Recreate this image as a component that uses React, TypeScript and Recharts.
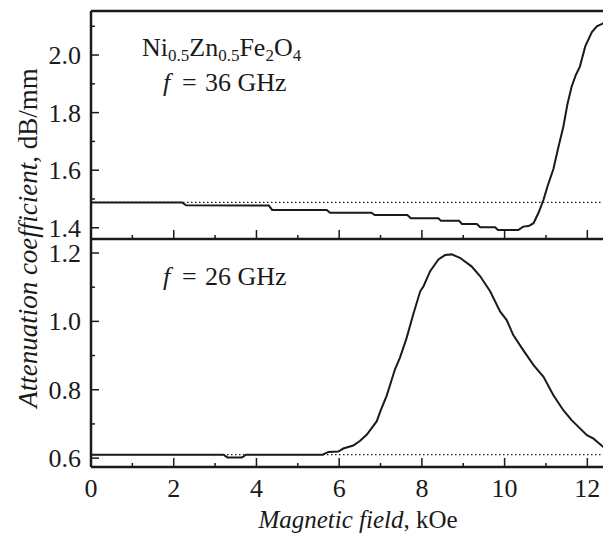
import React from "react";
import { LineChart, Line, XAxis, YAxis, ReferenceLine } from "recharts";

// top panel: f = 36 GHz
const field36 = [0, 1, 2.2, 2.3, 4.3, 4.38, 5.7, 5.78, 6.78, 6.86, 7.65, 7.73, 8.4, 8.46, 8.9, 8.97, 9.33, 9.41, 9.77, 9.84, 10.33, 10.45, 10.58, 10.7, 10.82, 10.94, 11.04, 11.18, 11.3, 11.42, 11.52, 11.62, 11.72, 11.82, 11.95, 12.11, 12.23, 12.38, 12.5];
const atten36 = [1.488, 1.488, 1.488, 1.478, 1.477, 1.462, 1.462, 1.452, 1.452, 1.444, 1.444, 1.433, 1.433, 1.424, 1.424, 1.413, 1.413, 1.402, 1.402, 1.392, 1.392, 1.404, 1.406, 1.416, 1.452, 1.497, 1.545, 1.604, 1.68, 1.751, 1.83, 1.89, 1.93, 1.96, 2.03, 2.08, 2.1, 2.11, 2.115];
const base36 = 1.488;

// bottom panel: f = 26 GHz
const field26 = [0, 3.2, 3.3, 3.65, 3.75, 5.6, 5.74, 5.98, 6.1, 6.34, 6.5, 6.67, 6.91, 7.0, 7.15, 7.35, 7.47, 7.63, 7.79, 7.96, 8.04, 8.2, 8.4, 8.56, 8.72, 8.92, 9.2, 9.41, 9.65, 9.89, 10.05, 10.21, 10.45, 10.7, 10.94, 11.18, 11.42, 11.62, 11.99, 12.15, 12.38, 12.5];
const atten26 = [0.61, 0.61, 0.602, 0.602, 0.61, 0.61, 0.618, 0.619, 0.628, 0.637, 0.65, 0.669, 0.708, 0.738, 0.783, 0.86, 0.894, 0.951, 1.02, 1.088, 1.103, 1.147, 1.181, 1.194, 1.196, 1.186, 1.161, 1.132, 1.088, 1.029, 1.004, 0.96, 0.916, 0.872, 0.838, 0.784, 0.74, 0.711, 0.667, 0.657, 0.633, 0.622];
const base26 = 0.61;

const xTicks = [0, 1, 2, 3, 4, 5, 6, 7, 8, 9, 10, 11, 12];
const yTicksTop = [1.4, 1.5, 1.6, 1.7, 1.8, 1.9, 2.0, 2.1];
const yTicksBottom = [0.6, 0.7, 0.8, 0.9, 1.0, 1.1, 1.2];

const topData = field36.map((x, i) => ({ x, y: atten36[i] }));
const bottomData = field26.map((x, i) => ({ x, y: atten26[i] }));

const INK = "#1a1a1a";
const FONT = "'Liberation Serif', 'Times New Roman', serif";
const FS = 25;

const XTick = ({ x, y, payload, showLabel }: any) => {
  const v = payload.value;
  const major = v % 2 === 0;
  return (
    <g>
      <line x1={x} x2={x} y1={y} y2={y - (major ? 9 : 4)} stroke={INK} strokeWidth={1.5} />
      {showLabel && major && (
        <text x={x} y={y + 30} textAnchor="middle" fontFamily={FONT} fontSize={26} fill={INK}>
          {v}
        </text>
      )}
    </g>
  );
};

const YTick = ({ x, y, payload }: any) => {
  const v = payload.value;
  const major = Math.round(v * 10) % 2 === 0;
  return (
    <g>
      <line x1={x} x2={x + (major ? 8 : 4)} y1={y} y2={y} stroke={INK} strokeWidth={1.5} />
      {major && (
        <text x={x - 10} y={y + 9} textAnchor="end" fontFamily={FONT} fontSize={26} fill={INK}>
          {v.toFixed(1)}
        </text>
      )}
    </g>
  );
};

const W = 620;
const H = 538;

const axisCommon = {
  type: "number" as const,
  allowDataOverflow: true,
  interval: 0 as const,
  tickSize: 0,
  tickMargin: 0,
  tickLine: false,
  axisLine: { stroke: INK, strokeWidth: 2.5 },
};

export default function App() {
  return (
    <div style={{ position: "absolute", left: 0, top: 0, width: 603, height: 538, overflow: "hidden", background: "#fff" }}>
      <div style={{ position: "absolute", left: 0, top: 0 }}>
        <LineChart width={W} height={H} data={topData} margin={{ top: 11, right: 12, bottom: H - 239 - 1, left: 90 }}>
          <XAxis
            {...axisCommon}
            dataKey="x"
            domain={[0, 12.5]}
            ticks={xTicks}
            height={1}
            tick={(p: any) => <XTick {...p} showLabel={false} />}
          />
          <YAxis
            {...axisCommon}
            domain={[1.361, 2.153]}
            ticks={yTicksTop}
            width={1}
            tick={(p: any) => <YTick {...p} />}
          />
          <ReferenceLine y={2.153} stroke={INK} strokeWidth={2.5} />
          <ReferenceLine y={base36} stroke={INK} strokeWidth={1.2} strokeDasharray="1.5 2.5" />
          <Line dataKey="y" type="linear" stroke={INK} strokeWidth={2} dot={false} isAnimationActive={false} />
        </LineChart>
      </div>
      <div style={{ position: "absolute", left: 0, top: 0 }}>
        <LineChart width={W} height={H} data={bottomData} margin={{ top: 239, right: 12, bottom: H - 467 - 1, left: 90 }}>
          <XAxis
            {...axisCommon}
            dataKey="x"
            domain={[0, 12.5]}
            ticks={xTicks}
            height={1}
            tick={(p: any) => <XTick {...p} showLabel />}
          />
          <YAxis
            {...axisCommon}
            domain={[0.574, 1.241]}
            ticks={yTicksBottom}
            width={1}
            tick={(p: any) => <YTick {...p} />}
          />
          <ReferenceLine y={base26} stroke={INK} strokeWidth={1.2} strokeDasharray="1.5 2.5" />
          <Line dataKey="y" type="linear" stroke={INK} strokeWidth={2} dot={false} isAnimationActive={false} />
        </LineChart>
      </div>
      <svg width={603} height={538} style={{ position: "absolute", left: 0, top: 0, pointerEvents: "none" }}>
        <g fontFamily={FONT} fill={INK}>
          <text x={142} y={56} fontSize={26}>
            Ni<tspan fontSize={17} dy={5}>0.5</tspan>
            <tspan dy={-5}>Zn</tspan>
            <tspan fontSize={17} dy={5}>0.5</tspan>
            <tspan dy={-5}>Fe</tspan>
            <tspan fontSize={17} dy={5}>2</tspan>
            <tspan dy={-5}>O</tspan>
            <tspan fontSize={17} dy={5}>4</tspan>
          </text>
          <text y={91} fontSize={26}>
            <tspan x={163} fontStyle="italic">f</tspan>
            <tspan x={182}>=</tspan>
            <tspan x={205}>36 GHz</tspan>
          </text>
          <text y={285} fontSize={26}>
            <tspan x={163} fontStyle="italic">f</tspan>
            <tspan x={182}>=</tspan>
            <tspan x={205}>26 GHz</tspan>
          </text>
          <text x={358} y={528} fontSize={FS} textAnchor="middle">
            <tspan fontStyle="italic">Magnetic field</tspan>, kOe
          </text>
          <text x={0} y={0} fontSize={27} textAnchor="middle" transform="translate(37 238) rotate(-90)">
            <tspan fontStyle="italic">Attenuation coefficient</tspan>, dB/mm
          </text>
        </g>
      </svg>
    </div>
  );
}
